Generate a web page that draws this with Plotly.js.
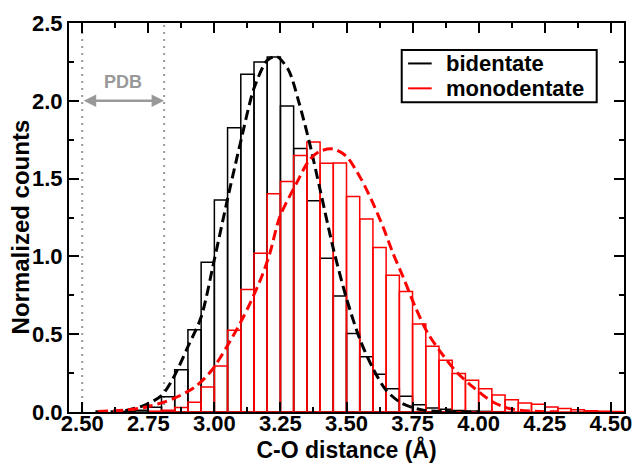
<!DOCTYPE html>
<html>
<head>
<meta charset="utf-8">
<script src="https://cdn.plot.ly/plotly-3.0.1.min.js"></script>
<style>html,body{margin:0;padding:0;background:#fff;}#chart{width:635px;height:466px;}</style>
</head>
<body>
<div id="chart"></div>
<script>
// Histogram bin left edges (bin width 0.05 Å)
const bidEdges = [2.65, 2.70, 2.75, 2.80, 2.85, 2.90, 2.95, 3.00, 3.05, 3.10, 3.15, 3.20, 3.25, 3.30, 3.35, 3.40, 3.45, 3.50, 3.55, 3.60, 3.65, 3.70, 3.75, 3.80, 3.85, 3.90, 3.95, 4.00, 4.05];
const bidCounts = [0.004, 0.012, 0.030, 0.098, 0.272, 0.528, 0.962, 1.362, 1.826, 2.170, 2.250, 2.282, 1.966, 1.694, 1.357, 0.988, 0.746, 0.505, 0.355, 0.242, 0.150, 0.102, 0.047, 0.026, 0.017, 0.010, 0.006, 0.004, 0.002];

const monoEdges = [2.75, 2.80, 2.85, 2.90, 2.95, 3.00, 3.05, 3.10, 3.15, 3.20, 3.25, 3.30, 3.35, 3.40, 3.45, 3.50, 3.55, 3.60, 3.65, 3.70, 3.75, 3.80, 3.85, 3.90, 3.95, 4.00, 4.05, 4.10, 4.15, 4.20, 4.25, 4.30, 4.35, 4.40, 4.45, 4.50];
const monoCounts = [0.005, 0.012, 0.029, 0.063, 0.160, 0.295, 0.526, 0.788, 1.020, 1.402, 1.481, 1.648, 1.735, 1.598, 1.600, 1.385, 1.241, 1.058, 0.879, 0.775, 0.565, 0.423, 0.333, 0.247, 0.204, 0.150, 0.110, 0.078, 0.058, 0.050, 0.032, 0.022, 0.015, 0.008, 0.005, 0.003];

// Fitted curves
const bidFitX = [2.55, 2.65, 2.73, 2.80, 2.845, 2.90, 2.95, 3.00, 3.05, 3.10, 3.15, 3.20, 3.235, 3.28, 3.32, 3.36, 3.40, 3.45, 3.50, 3.55, 3.60, 3.65, 3.71, 3.79, 3.90, 4.00];
const bidFitY = [0.001, 0.005, 0.040, 0.105, 0.220, 0.420, 0.610, 0.980, 1.370, 1.740, 2.080, 2.260, 2.285, 2.200, 1.990, 1.730, 1.430, 1.050, 0.730, 0.470, 0.280, 0.140, 0.055, 0.012, 0.002, 0.000];

const monoFitX = [2.56, 2.66, 2.744, 2.845, 2.927, 2.99, 3.047, 3.097, 3.135, 3.179, 3.21, 3.248, 3.311, 3.36, 3.40, 3.45, 3.50, 3.557, 3.60, 3.638, 3.676, 3.714, 3.76, 3.808, 3.865, 3.916, 3.978, 4.054, 4.117, 4.193, 4.30];
const monoFitY = [0.003, 0.012, 0.032, 0.086, 0.161, 0.268, 0.419, 0.569, 0.698, 0.869, 1.020, 1.256, 1.471, 1.621, 1.676, 1.690, 1.642, 1.492, 1.342, 1.191, 1.020, 0.869, 0.676, 0.505, 0.365, 0.258, 0.161, 0.064, 0.022, 0.006, 0.001];

const seriesNames = ['bidentate', 'monodentate'];
const seriesColors = ['#000000', '#ff0000'];
const pdbRange = [2.50, 2.81];
const pdbArrowY = 2.0;
const pdbLabelY = 2.12;

const FONT = 'Liberation Sans, Arial, Helvetica, sans-serif';
const BINW = 0.05;

const traces = [
  {type: 'bar', x: bidEdges, y: bidCounts, width: BINW, offset: 0, name: seriesNames[0], showlegend: false,
   marker: {color: 'rgba(0,0,0,0)', line: {color: seriesColors[0], width: 1.5}}},
  {type: 'bar', x: monoEdges, y: monoCounts, width: BINW, offset: 0, name: seriesNames[1], showlegend: false,
   marker: {color: 'rgba(0,0,0,0)', line: {color: seriesColors[1], width: 1.5}}},
  {type: 'scatter', mode: 'lines', x: bidFitX, y: bidFitY, showlegend: false,
   line: {color: seriesColors[0], width: 3, dash: '10px,5px', shape: 'spline', smoothing: 0.8}},
  {type: 'scatter', mode: 'lines', x: monoFitX, y: monoFitY, showlegend: false,
   line: {color: seriesColors[1], width: 3, dash: '10px,5px', shape: 'spline', smoothing: 0.8}}
];

const axisCommon = {
  showline: true, linecolor: '#000', linewidth: 2, mirror: 'ticks',
  ticks: 'inside', ticklen: 10, tickwidth: 2, tickcolor: '#000',
  showgrid: false, zeroline: false,
  tickfont: {family: FONT, size: 22, color: '#000', weight: 'bold'}
};

// manual legend geometry (paper coords)
const legBox = {x0: 0.5995, x1: 0.9508, y0: 0.7961, y1: 0.9306};
const legRowsY = [0.896, 0.832];
const legLineX = [0.611, 0.6535];
const legTextX = 0.6775;

const shapes = pdbRange.map(v => ({
  type: 'line', xref: 'x', yref: 'paper', x0: v, x1: v, y0: 0, y1: 1,
  line: {color: '#999999', width: 2, dash: '2px,5px'}, layer: 'below'
}));
shapes.push({type: 'rect', xref: 'paper', yref: 'paper', x0: legBox.x0, x1: legBox.x1, y0: legBox.y0, y1: legBox.y1,
  line: {color: '#000', width: 2}, fillcolor: '#fff', layer: 'above'});
seriesNames.forEach((n, i) => shapes.push({type: 'line', xref: 'paper', yref: 'paper',
  x0: legLineX[0], x1: legLineX[1], y0: legRowsY[i], y1: legRowsY[i], line: {color: seriesColors[i], width: 2}, layer: 'above'}));

const annotations = [
  {xref: 'x', yref: 'y', axref: 'x', ayref: 'y', x: pdbRange[1], y: pdbArrowY, ax: pdbRange[0], ay: pdbArrowY,
   text: '', showarrow: true, arrowhead: 2, arrowside: 'end+start', arrowsize: 1, arrowwidth: 2.5, arrowcolor: '#999999',
   standoff: 0, startstandoff: 0},
  {xref: 'x', yref: 'y', x: (pdbRange[0] + pdbRange[1]) / 2, y: pdbLabelY, text: 'PDB', showarrow: false,
   font: {family: FONT, size: 18, color: '#999999', weight: 'bold'}},
  // y-axis title
  {xref: 'paper', yref: 'paper', x: -0.0883, y: 0.477, xanchor: 'center', yanchor: 'middle', textangle: -90,
   text: 'Normalized counts', showarrow: false,
   font: {family: FONT, size: 24, color: '#000', weight: 'bold'}}
];
seriesNames.forEach((n, i) => annotations.push({xref: 'paper', yref: 'paper', x: legTextX, y: legRowsY[i],
  xanchor: 'left', yanchor: 'middle', text: n, showarrow: false, borderpad: 0,
  font: {family: FONT, size: 22, color: '#000', weight: 'bold'}}));

const layout = {
  width: 635, height: 466,
  margin: {l: 69, r: 11, t: 23, b: 54},
  paper_bgcolor: '#fff', plot_bgcolor: '#fff',
  barmode: 'overlay', bargap: 0, showlegend: false,
  font: {family: FONT, color: '#000'},
  xaxis: Object.assign({}, axisCommon, {
    range: [2.45, 4.55], tick0: 2.5, dtick: 0.25, tickformat: '.2f', ticklabelstandoff: -9,
    minor: {dtick: 0.125, ticks: 'inside', ticklen: 5, tickwidth: 2, tickcolor: '#000', showgrid: false},
    title: {text: 'C-O distance (Å)', font: {family: FONT, size: 23, color: '#000', weight: 'bold'}, standoff: 4}
  }),
  yaxis: Object.assign({}, axisCommon, {
    range: [0, 2.5], tick0: 0, dtick: 0.5, tickformat: '.1f',
    minor: {dtick: 0.25, ticks: 'inside', ticklen: 5, tickwidth: 2, tickcolor: '#000', showgrid: false}
  }),
  shapes: shapes,
  annotations: annotations
};

Plotly.newPlot('chart', traces, layout, {displayModeBar: false, staticPlot: true});
</script>
</body>
</html>
